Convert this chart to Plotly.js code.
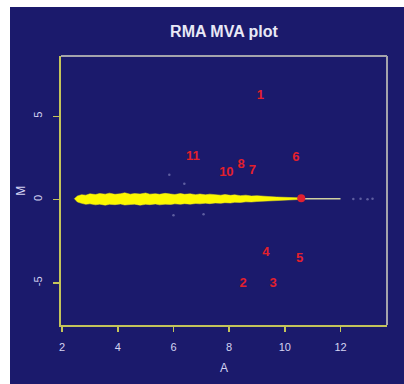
<!DOCTYPE html>
<html><head><meta charset="utf-8">
<script src="https://cdn.plot.ly/plotly-3.0.1.min.js"></script>
<style>
html,body{margin:0;padding:0;background:#ffffff;width:404px;height:384px;overflow:hidden;}
#chart{position:absolute;left:10px;top:7px;width:394px;height:377px;}
</style></head><body>
<div id="chart"></div>
<script>
// Dense yellow band (envelope)
var bandA = [2.44, 2.55, 2.7, 2.85, 3.0, 3.2, 3.35, 3.55, 3.7, 3.9, 4.1, 4.25, 4.45, 4.6, 4.8, 5.0, 5.15, 5.35, 5.5, 5.7, 5.9, 6.05, 6.25, 6.4, 6.6, 6.8, 6.95, 7.15, 7.3, 7.5, 7.7, 7.85, 8.05, 8.2, 8.4, 8.6, 8.8, 9.0, 9.2, 9.4, 9.7, 10.0, 10.3, 10.5];
var bandUpper = [0.06, 0.22, 0.3, 0.27, 0.35, 0.31, 0.37, 0.33, 0.39, 0.32, 0.36, 0.41, 0.33, 0.37, 0.34, 0.4, 0.33, 0.36, 0.32, 0.38, 0.34, 0.31, 0.37, 0.32, 0.35, 0.3, 0.34, 0.29, 0.33, 0.3, 0.27, 0.31, 0.26, 0.29, 0.24, 0.27, 0.22, 0.24, 0.2, 0.19, 0.16, 0.14, 0.12, 0.11];
var bandLower = [0.06, -0.14, -0.22, -0.28, -0.25, -0.31, -0.27, -0.33, -0.28, -0.3, -0.26, -0.32, -0.29, -0.27, -0.33, -0.28, -0.3, -0.26, -0.31, -0.27, -0.29, -0.25, -0.28, -0.24, -0.27, -0.23, -0.25, -0.21, -0.24, -0.2, -0.22, -0.18, -0.2, -0.16, -0.17, -0.13, -0.14, -0.11, -0.1, -0.08, -0.05, -0.02, 0.0, 0.01];
// thin tail
var tailA = [10.5, 11.0, 11.5, 12.0];
var tailM = [0.06, 0.06, 0.05, 0.05];
// sparse faint points
var faintA = [5.85, 6.39, 6.0, 7.08, 12.46, 12.72, 12.97, 13.15];
var faintM = [1.5, 0.96, -0.94, -0.88, 0.04, 0.06, 0.03, 0.05];
// highlighted spot
var spotA = [10.59];
var spotM = [0.08];
// numbered outliers
var labA = [9.12, 8.5, 9.58, 9.32, 10.53, 10.4, 8.83, 8.43, 7.9, 6.7];
var labM = [6.26, -5.04, -5.04, -3.2, -3.55, 2.52, 1.72, 2.12, 1.6, 2.6];
var labText = ["1", "2", "3", "4", "5", "6", "7", "8", "10", "11"];
var xTicks = [2, 4, 6, 8, 10, 12];
var yTicks = [-5, 0, 5];

var polyA = bandA.concat(bandA.slice().reverse());
var polyM = bandUpper.concat(bandLower.slice().reverse());

var navy = '#1b1a6c';
var txt = '#d4d4f2';
var axisYellow = '#c4c45a';
var fam = 'Liberation Sans, Arial, sans-serif';

var traces = [
  {x: polyA, y: polyM, mode: 'lines', fill: 'toself', fillcolor: '#fcf800',
   line: {color: '#eeea18', width: 0.5}, hoverinfo: 'skip', showlegend: false},
  {x: tailA, y: tailM, mode: 'lines', line: {color: '#d0d0a0', width: 1.5}, showlegend: false},
  {x: faintA, y: faintM, mode: 'markers', marker: {color: '#5e5ea0', size: 2.5}, showlegend: false},
  {x: spotA, y: spotM, mode: 'markers', marker: {color: '#e02030', size: 8}, showlegend: false},
  {x: labA, y: labM, mode: 'text', text: labText,
   textfont: {family: fam, size: 13, color: '#e3202c', weight: 'bold'},
   textposition: 'middle center', showlegend: false}
];

var layout = {
  width: 394, height: 377,
  paper_bgcolor: navy, plot_bgcolor: navy,
  margin: {l: 51, r: 17, t: 49, b: 59},
  font: {family: fam, color: txt, size: 11},
  title: {text: '<b>RMA MVA plot</b>', x: 0.5, xref: 'paper', xanchor: 'center',
          y: 0.934, yref: 'container', yanchor: 'middle',
          font: {size: 16, color: '#e8e8f6', family: fam}},
  xaxis: {range: [1.96, 13.67], tickvals: xTicks, ticktext: xTicks.map(String),
          showgrid: false, zeroline: false, showline: true, linecolor: axisYellow, linewidth: 2,
          ticks: 'outside', ticklen: 5, tickwidth: 1.5, tickcolor: axisYellow,
          ticklabelstandoff: 6},
  yaxis: {range: [-7.52, 8.62], tickvals: yTicks, ticktext: yTicks.map(String),
          showgrid: false, zeroline: false, showline: true, linecolor: axisYellow, linewidth: 2,
          ticks: 'outside', ticklen: 6, tickwidth: 1.5, tickcolor: axisYellow, tickangle: -90,
          ticklabelstandoff: 7},
  annotations: [
    {text: 'A', xref: 'paper', yref: 'paper', x: 0.5, y: -0.161, xanchor: 'center', yanchor: 'middle',
     showarrow: false, font: {size: 12, color: txt, family: fam}},
    {text: 'M', xref: 'paper', yref: 'paper', x: -0.125, y: 0.5, xanchor: 'center', yanchor: 'middle',
     textangle: -90, showarrow: false, font: {size: 12, color: txt, family: fam}}
  ],
  shapes: [
    {type: 'line', xref: 'paper', yref: 'paper', x0: 0, x1: 1, y0: 1, y1: 1, line: {color: '#a4a4ac', width: 2}},
    {type: 'line', xref: 'paper', yref: 'paper', x0: 1, x1: 1, y0: 0, y1: 1, line: {color: '#a4a4ac', width: 2}}
  ]
};

Plotly.newPlot('chart', traces, layout, {displayModeBar: false, staticPlot: true});
</script>
</body></html>
